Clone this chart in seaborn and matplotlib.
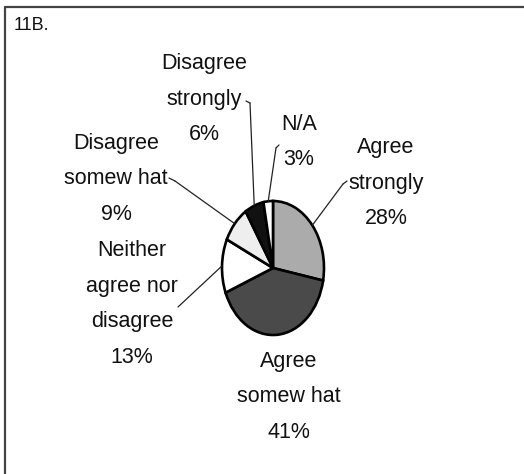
import numpy as np
import matplotlib
matplotlib.use("Agg")
import matplotlib.pyplot as plt
import seaborn as sns
from matplotlib.lines import Line2D

# data
categories = ["Agree\nstrongly", "Agree\nsomew hat", "Neither\nagree nor\ndisagree",
              "Disagree\nsomew hat", "Disagree\nstrongly", "N/A"]
percent = [28, 41, 13, 9, 6, 3]
slice_colors = ["#ababab", "#4a4a4a", "#ffffff", "#eeeeee", "#111111", "#ffffff"]
panel_label = "11B."

W, H = 524, 474
sns.set_theme(style="white")
plt.rcParams['font.family'] = ['Liberation Sans Narrow', 'Liberation Sans', 'DejaVu Sans']

fig = plt.figure(figsize=(W / 100, H / 100), dpi=100)
fig.patch.set_facecolor("white")

def fx(x):
    return x / W

def fy(y):
    return 1 - y / H

# pie is drawn squashed (taller than wide) like the original
ax = fig.add_axes([fx(222), fy(335), 102 / W, 134 / H])
wedges, _ = ax.pie(percent, colors=slice_colors, startangle=90, counterclock=False,
                   wedgeprops=dict(edgecolor="black", linewidth=1.9))
for w in wedges:
    w.set_clip_on(False)
ax.set_aspect("auto")
ax.set_xlim(-1, 1)
ax.set_ylim(-1, 1)
ax.axis("off")

# label layout (pixel positions of each text block, leader starts, small hooks)
label_pos = {0: (386, 183), 1: (289, 397), 2: (132, 304), 3: (116, 179), 4: (204, 99), 5: (299, 142)}
leader_start = {0: (343, 184), 2: (178, 307), 3: (175, 181), 4: (250, 103), 5: (276, 148)}
hook_end = {0: (347, 181), 3: (169, 178), 4: (246, 101), 5: (279, 145)}

txt_color = "#111111"
for i, (cat, p) in enumerate(zip(categories, percent)):
    x, y = label_pos[i]
    fig.text(fx(x), fy(y), f"{cat}\n{p}%", ha="center", va="center", multialignment="center",
             fontsize=15.5, linespacing=1.9, color=txt_color)
    if i in leader_start:
        w = wedges[i]
        mid = np.deg2rad((w.theta1 + w.theta2) / 2)
        sx, sy = leader_start[i]
        ax.annotate("", xy=(np.cos(mid), np.sin(mid)), xycoords="data",
                    xytext=(sx, H - sy), textcoords="figure pixels",
                    arrowprops=dict(arrowstyle="-", color="#222222", lw=0.9, shrinkA=0, shrinkB=0))
    if i in hook_end:
        hx, hy = hook_end[i]
        fig.add_artist(Line2D([fx(sx), fx(hx)], [fy(sy), fy(hy)], transform=fig.transFigure,
                              color="#222222", lw=0.9))

fig.text(fx(14), fy(25), panel_label, ha="left", va="center", fontsize=13, color=txt_color)

# scanned frame: only top and left edges are visible
fig.add_artist(Line2D([fx(5), 1], [fy(6.5), fy(6.5)], transform=fig.transFigure, color="#444444", lw=1.6))
fig.add_artist(Line2D([fx(5), fx(5)], [fy(6.5), 0], transform=fig.transFigure, color="#444444", lw=1.6))

fig.savefig("out.png", dpi=100)
